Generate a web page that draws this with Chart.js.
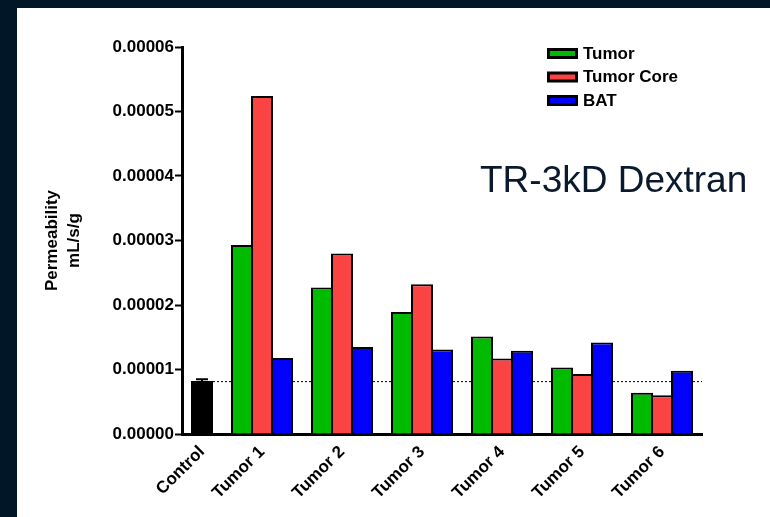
<!DOCTYPE html>
<html>
<head>
<meta charset="utf-8">
<script src="https://cdn.jsdelivr.net/npm/chart.js@4.4.0/dist/chart.umd.min.js"></script>
<style>
    html, body { margin: 0; padding: 0; background: #011627; }
    #contenedor { position: absolute; left: 17px; top: 8px; width: 753px; height: 509px; background: #ffffff; }
</style>
</head>
<body>
<div id="contenedor"><canvas id="Grafico" width="753" height="509"></canvas></div>
<script>
// datos
const grupos = ['Control', 'Tumor 1', 'Tumor 2', 'Tumor 3', 'Tumor 4', 'Tumor 5', 'Tumor 6'];
const valor_control = [0.0000082];
const error_control = [0.0000003];
const valores_tumor = [0.0000293, 0.0000227, 0.0000189, 0.0000151, 0.0000103, 0.0000064];
const valores_core  = [0.0000524, 0.0000280, 0.0000232, 0.0000117, 0.0000093, 0.0000060];
const valores_bat   = [0.0000118, 0.0000135, 0.0000131, 0.0000129, 0.0000142, 0.0000098];
const ticks_y = [0, 0.00001, 0.00002, 0.00003, 0.00004, 0.00005, 0.00006];
const titulo = 'TR-3kD Dextran';
const titulo_y = ['Permeability', 'mL/s/g'];

const fuente = '"Liberation Sans", Arial, Helvetica, sans-serif';

// cada barra ocupa su propio espacio en el eje, con un hueco entre grupos
const etiquetas = [];
const arreglo_control = [];
const arreglo_tumor = [];
const arreglo_core = [];
const arreglo_bat = [];
function agregar(etiqueta, c, t, co, b){
    etiquetas.push(etiqueta);
    arreglo_control.push(c);
    arreglo_tumor.push(t);
    arreglo_core.push(co);
    arreglo_bat.push(b);
}
agregar('', null, null, null, null);
agregar(grupos[0], valor_control[0], null, null, null);
agregar('', null, null, null, null);
for(let i = 0; i < valores_tumor.length; i++){
    agregar('', null, valores_tumor[i], null, null);
    agregar(grupos[i+1], null, null, valores_core[i], null);
    agregar('', null, null, null, valores_bat[i]);
    agregar('', null, null, null, null);
}
const indice_control = etiquetas.indexOf(grupos[0]);

const linea_control = {
    id: 'linea_control',
    beforeDatasetsDraw(chart){
        const ctx = chart.ctx;
        const barra = chart.getDatasetMeta(3).data[indice_control];
        const y = chart.scales.y.getPixelForValue(valor_control[0]);
        ctx.save();
        ctx.strokeStyle = '#000';
        ctx.lineWidth = 1;
        ctx.setLineDash([2, 2]);
        ctx.beginPath();
        ctx.moveTo(barra.x + barra.width / 2, y + 0.5);
        ctx.lineTo(chart.chartArea.right, y + 0.5);
        ctx.stroke();
        ctx.restore();
    },
    afterDatasetsDraw(chart){
        const ctx = chart.ctx;
        const barra = chart.getDatasetMeta(3).data[indice_control];
        const y0 = chart.scales.y.getPixelForValue(valor_control[0]);
        const y1 = chart.scales.y.getPixelForValue(valor_control[0] + error_control[0]);
        ctx.save();
        ctx.strokeStyle = '#000';
        ctx.lineWidth = 2;
        ctx.beginPath();
        ctx.moveTo(barra.x, y0);
        ctx.lineTo(barra.x, y1);
        ctx.moveTo(barra.x - 6, y1);
        ctx.lineTo(barra.x + 6, y1);
        ctx.stroke();
        ctx.restore();
    }
};

const leyenda_y_titulo = {
    id: 'leyenda_y_titulo',
    afterDraw(chart){
        const ctx = chart.ctx;
        const series = chart.data.datasets.filter(d => d.label !== 'Control');
        ctx.save();
        ctx.font = 'bold 17px ' + fuente;
        ctx.textBaseline = 'middle';
        ctx.textAlign = 'left';
        series.forEach((d, i) => {
            const y = 46 + i * 23.5;
            ctx.fillStyle = d.backgroundColor;
            ctx.fillRect(531, y - 5, 29, 9);
            ctx.strokeStyle = '#000';
            ctx.lineWidth = 3;
            ctx.strokeRect(531.5, y - 4.5, 28, 8);
            ctx.fillStyle = '#000';
            ctx.fillText(d.label, 566, y);
        });
        ctx.font = '37px ' + fuente;
        ctx.fillStyle = '#0a1a2c';
        ctx.textBaseline = 'alphabetic';
        ctx.fillText(titulo, 463, 184);
        ctx.restore();
    }
};

new Chart(document.getElementById('Grafico'), {
    type: 'bar',
    data: {
        labels: etiquetas,
        datasets: [
            { label: 'Tumor', data: arreglo_tumor, backgroundColor: '#00bb00' },
            { label: 'Tumor Core', data: arreglo_core, backgroundColor: '#fa4343' },
            { label: 'BAT', data: arreglo_bat, backgroundColor: '#0000ff' },
            { label: 'Control', data: arreglo_control, backgroundColor: '#000000' }
        ].map(d => Object.assign(d, {
            borderColor: '#000',
            borderWidth: 2,
            borderSkipped: 'start',
            barPercentage: 1.1,
            categoryPercentage: 1
        }))
    },
    options: {
        responsive: false,
        animation: false,
        layout: { padding: { left: 0, top: 39, right: 68, bottom: 0 } },
        plugins: {
            legend: { display: false },
            tooltip: { enabled: false }
        },
        scales: {
            x: {
                stacked: true,
                offset: false,
                grid: { display: false, drawTicks: false, offset: false },
                border: { display: true, color: '#000', width: 3 },
                ticks: {
                    autoSkip: false,
                    minRotation: 45,
                    maxRotation: 45,
                    padding: 8,
                    color: '#000',
                    font: { family: fuente, size: 17, weight: 'bold' }
                },
                afterFit: (scale) => { scale.height = 83; }
            },
            y: {
                min: 0,
                max: 0.00006,
                afterBuildTicks: (scale) => { scale.ticks = ticks_y.map(v => ({ value: v })); },
                grid: { drawOnChartArea: false, drawTicks: true, tickLength: 7, tickWidth: 2, tickColor: '#000', color: '#000' },
                border: { display: true, color: '#000', width: 3 },
                ticks: {
                    padding: 1,
                    color: '#000',
                    font: { family: fuente, size: 17, weight: 'bold' },
                    callback: (v) => Number(v).toFixed(5)
                },
                title: {
                    display: true,
                    text: titulo_y,
                    color: '#000',
                    padding: { top: 24, bottom: 0 },
                    font: { family: fuente, size: 17, weight: 'bold', lineHeight: 1.3 }
                },
                afterFit: (scale) => { scale.width = 165; }
            }
        }
    },
    plugins: [linea_control, leyenda_y_titulo]
});
</script>
</body>
</html>
